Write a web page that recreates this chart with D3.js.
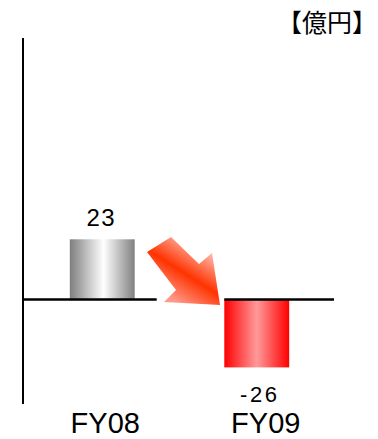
<!DOCTYPE html>
<html>
<head>
<meta charset="utf-8">
<script src="https://cdn.jsdelivr.net/npm/d3@7"></script>
<style>
  html, body { margin: 0; padding: 0; background: #fff; }
  svg { display: block; }
  text { font-family: "Liberation Sans", Arial, sans-serif; fill: #000; }
</style>
</head>
<body>
<svg class="canvas" width="378" height="439"></svg>
<script>
// chart data
var categories = ["FY08", "FY09"];
var values = [23, -26];
var valueLabels = ["23", "-26"];
var unitLabel = "【億円】";

var svg = d3.select('.canvas')
var defs = svg.append("defs")

var y = d3.scaleLinear()
    .domain([-40, 100])
    .range([404, 38])

var x = d3.scaleBand()
    .domain(categories)
    .range([25, 334])
    .paddingInner(0.58)
    .paddingOuter(0.29)

// gradients
function hGrad(id, stops) {
    var g = defs.append("linearGradient")
        .attr("id", id)
        .attr("x1", "0%").attr("x2", "100%")
        .attr("y1", "0%").attr("y2", "0%")
    stops.forEach(function(s) {
        g.append("stop").attr("offset", s[0]).attr("stop-color", s[1])
    })
}
hGrad("gGray", [[0, "#7e7e7e"], [0.52, "#ffffff"], [1, "#808080"]])
hGrad("gRed", [[0, "#ff0000"], [0.5, "#ff9a9a"], [1, "#ff0000"]])

var arrowGrad = defs.append("linearGradient")
    .attr("id", "gArrow")
    .attr("gradientUnits", "userSpaceOnUse")
    .attr("x1", 199).attr("y1", 248)
    .attr("x2", 168).attr("y2", 297)
arrowGrad.append("stop").attr("offset", 0).attr("stop-color", "#ffb0a0")
arrowGrad.append("stop").attr("offset", 0.5).attr("stop-color", "#ff3300")
arrowGrad.append("stop").attr("offset", 1).attr("stop-color", "#ff9a8a")

// y axis line
svg.append("line")
    .attr("x1", 23).attr("x2", 23)
    .attr("y1", y.range()[1]).attr("y2", y.range()[0])
    .style("stroke", "#000")
    .style("stroke-width", 2)

// bars
svg.selectAll(".bar")
    .data(values)
    .enter()
    .append("rect")
        .attr("class", "bar")
        .attr("x", function(d, i) { return x(categories[i]); })
        .attr("width", x.bandwidth())
        .attr("y", function(d) { return y(Math.max(0, d)); })
        .attr("height", function(d) { return Math.abs(y(d) - y(0)); })
        .style("fill", function(d) { return d >= 0 ? "url(#gGray)" : "url(#gRed)"; })

// baseline, split around the arrow
var b1 = x(categories[0]) + x.bandwidth()
var b2 = x(categories[1])
svg.append("line")
    .attr("x1", 22).attr("x2", b1 + 22)
    .attr("y1", y(0)).attr("y2", y(0))
    .style("stroke", "#000").style("stroke-width", 2.5)
svg.append("line")
    .attr("x1", b2).attr("x2", x.range()[1])
    .attr("y1", y(0)).attr("y2", y(0))
    .style("stroke", "#000").style("stroke-width", 2.5)

// arrow
svg.append("polygon")
    .attr("points", "171,237 199,264 212,253 220,305 164,302 176,290 147,252")
    .style("fill", "url(#gArrow)")

// value labels
svg.selectAll(".val")
    .data(values)
    .enter()
    .append("text")
        .attr("class", "val")
        .attr("x", function(d, i) { return x(categories[i]) + x.bandwidth() / 2 + (d < 0 ? 3 : -1); })
        .attr("y", function(d) { return d >= 0 ? y(d) - 13 : y(d) + 35; })
        .attr("text-anchor", "middle")
        .style("font-size", function(d) { return d >= 0 ? "24px" : "22px"; })
        .style("letter-spacing", function(d) { return d >= 0 ? "1.5px" : "2.5px"; })
        .text(function(d, i) { return valueLabels[i]; })

// category labels
svg.selectAll(".cat")
    .data(categories)
    .enter()
    .append("text")
        .attr("class", "cat")
        .attr("x", function(d, i) { return x(d) + x.bandwidth() / 2 + (i === 0 ? 3 : 9); })
        .attr("y", 433)
        .attr("text-anchor", "middle")
        .style("font-size", "29px")
        .text(function(d) { return d; })

// unit
svg.append("text")
    .attr("x", 377)
    .attr("y", 32)
    .attr("text-anchor", "end")
    .style("font-family", "'Noto Sans CJK JP', sans-serif")
    .style("font-size", "25px")
    .text(unitLabel)
</script>
</body>
</html>
